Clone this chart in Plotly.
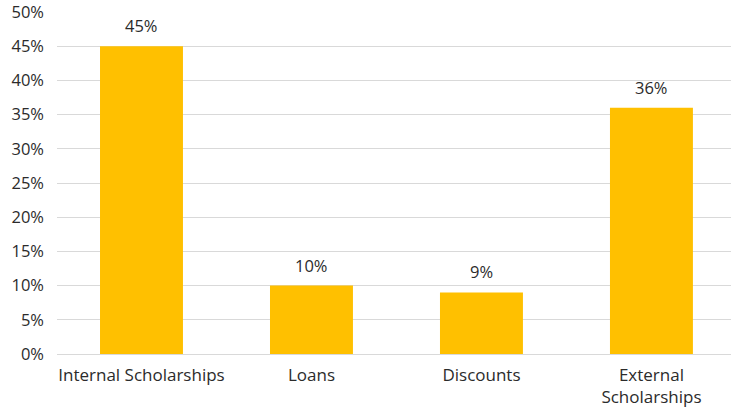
import plotly.graph_objects as go

categories = ["Internal Scholarships", "Loans", "Discounts", "External<br>Scholarships"]
shares = [45, 10, 9, 36]
y_ticks = [0, 5, 10, 15, 20, 25, 30, 35, 40, 45, 50]
y_tick_labels = [f"{v}%" for v in y_ticks]

font_family = "'Open Sans', sans-serif"
text_color = "#2b2b2b"
font_size = 16.5

fig = go.Figure(
    go.Bar(
        x=categories,
        y=shares,
        marker=dict(color="#FFC000", line=dict(width=0)),
        cliponaxis=False,
    )
)

# value labels sit a little above each bar
for cat, val in zip(categories, shares):
    fig.add_annotation(
        x=cat,
        y=val,
        text=f"{val}%",
        showarrow=False,
        yanchor="bottom",
        yshift=7,
        font=dict(size=font_size, color=text_color, family=font_family),
    )

fig.update_layout(
    width=731,
    height=409,
    margin=dict(l=57, r=0, t=12, b=55),
    plot_bgcolor="white",
    paper_bgcolor="white",
    bargap=0.512,
    showlegend=False,
    font=dict(family=font_family, size=font_size, color=text_color),
)

fig.update_xaxes(
    range=[-0.497, 3.468],
    showgrid=False,
    showline=False,
    ticks="",
    ticklabelstandoff=9,
    tickfont=dict(size=17, color=text_color),
)

fig.update_yaxes(
    range=[0, 50],
    tickvals=y_ticks,
    ticktext=y_tick_labels,
    showgrid=True,
    gridcolor="#D9D9D9",
    gridwidth=1,
    zeroline=True,
    zerolinecolor="#D9D9D9",
    zerolinewidth=1,
    ticks="",
    ticklabelstandoff=12,
    ticklabeloverflow="allow",
    tickfont=dict(size=font_size, color=text_color),
)

fig.write_html("out.html")
